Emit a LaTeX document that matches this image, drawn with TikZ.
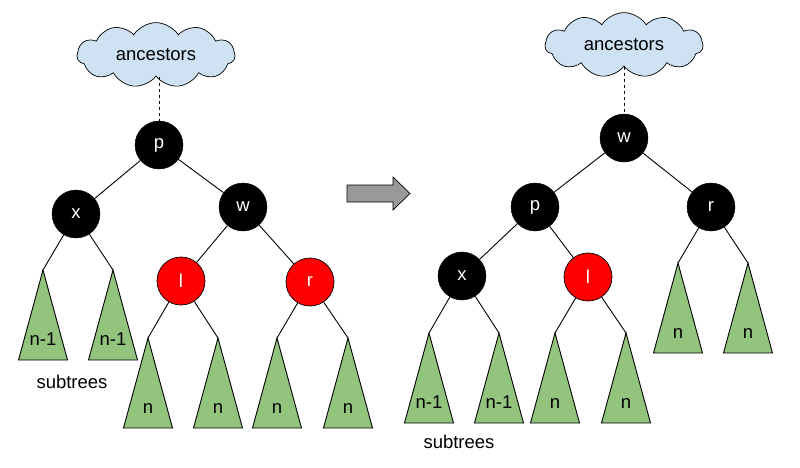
\documentclass[tikz,border=0pt]{standalone}
\usepackage{fontspec}
\setmainfont{Liberation Sans}
\usetikzlibrary{shapes.symbols}
\definecolor{treegreen}{HTML}{93C47D}
\definecolor{cloudblue}{HTML}{CFE2F3}
\definecolor{arrowgray}{HTML}{999999}
\tikzset{
  blacknode/.style={circle, fill=black, draw=black, minimum size=48pt, inner sep=0pt, text=white, font=\fontsize{18.5}{20}\selectfont},
  rednode/.style={circle, fill=red, draw=black, line width=0.7pt, minimum size=48pt, inner sep=0pt, text=white, font=\fontsize{18.5}{20}\selectfont},
  ancestorcloud/.style={cloud, cloud puffs=11, cloud puff arc=115, aspect=2.3, draw=black, line width=0.7pt, fill=cloudblue, minimum width=158pt, minimum height=60pt, inner sep=0pt, font=\fontsize{18.5}{20}\selectfont},
  edge/.style={line width=0.9pt},
  trilabel/.style={font=\fontsize{18.5}{20}\selectfont, inner sep=0pt},
  plainlabel/.style={font=\fontsize{18.5}{20}\selectfont, inner sep=0pt}
}
\newcommand{\mytri}[4]{%
  \coordinate (#1) at (#2,#3);
  \draw[fill=treegreen, line width=0.9pt] (#1) -- ++(-24.5,90) -- ++(49,0) -- cycle;
  \node[trilabel, anchor=base] (#1lab) at (#2,#3+75) {#4};
}
\begin{document}
\begin{tikzpicture}[x=1pt,y=-1pt]
\useasboundingbox (0,0) rectangle (800,467);
% ---------- left tree ----------
\node[ancestorcloud] (lcloud) at (156,55) {ancestors};
\node[blacknode] (lp) at (159,145) {p};
\node[blacknode] (lx) at (76,214) {x};
\node[blacknode] (lw) at (243,207) {w};
\node[rednode] (ll) at (181,281) {l};
\node[rednode] (lr) at (310,282) {r};
\draw[edge, dashed] (lcloud.south -| lp) -- (lp);
\draw[edge] (lp) -- (lx);
\draw[edge] (lp) -- (lw);
\draw[edge] (lw) -- (ll);
\draw[edge] (lw) -- (lr);
\mytri{la}{43}{270}{n-1}
\mytri{lb}{113}{270}{n-1}
\mytri{lc}{148}{338}{n}
\mytri{ld}{218}{338}{n}
\mytri{le}{277}{338}{n}
\mytri{lf}{348}{338}{n}
\draw[edge] (lx) -- (la);
\draw[edge] (lx) -- (lb);
\draw[edge] (ll) -- (lc);
\draw[edge] (ll) -- (ld);
\draw[edge] (lr) -- (le);
\draw[edge] (lr) -- (lf);
\node[plainlabel] (lsub) at (72,382) {subtrees};
% ---------- arrow ----------
\draw[line width=0.7pt, fill=arrowgray] (347,185) -- (393,185) -- (393,177) -- (410,193.5) -- (393,210) -- (393,202) -- (347,202) -- cycle;
% ---------- right tree ----------
\node[ancestorcloud] (rcloud) at (624,45) {ancestors};
\node[blacknode] (rw) at (624,138) {w};
\node[blacknode] (rp) at (535,207) {p};
\node[blacknode] (rr) at (711,207) {r};
\node[blacknode] (rx) at (462,276) {x};
\node[rednode] (rl) at (588,277) {l};
\draw[edge, dashed] (rcloud.south -| rw) -- (rw);
\draw[edge] (rw) -- (rp);
\draw[edge] (rw) -- (rr);
\draw[edge] (rp) -- (rx);
\draw[edge] (rp) -- (rl);
\mytri{ra}{429}{333}{n-1}
\mytri{rb}{499}{333}{n-1}
\mytri{rc}{555}{333}{n}
\mytri{rd}{626}{333}{n}
\mytri{re}{678}{263}{n}
\mytri{rf}{748}{263}{n}
\draw[edge] (rx) -- (ra);
\draw[edge] (rx) -- (rb);
\draw[edge] (rl) -- (rc);
\draw[edge] (rl) -- (rd);
\draw[edge] (rr) -- (re);
\draw[edge] (rr) -- (rf);
\node[plainlabel] (rsub) at (459,442) {subtrees};
\end{tikzpicture}
\end{document}
